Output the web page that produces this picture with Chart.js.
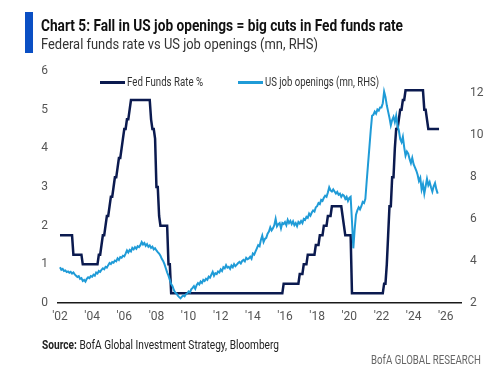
<!DOCTYPE html>
<html><head><meta charset="utf-8">
<script src="https://cdn.jsdelivr.net/npm/chart.js@4.4.1/dist/chart.umd.min.js"></script>
<style>
html,body{margin:0;padding:0;background:#fff;width:500px;height:372px;overflow:hidden;}
body{position:relative;font-family:"Roboto",sans-serif;}
#c{position:absolute;left:0;top:0;}
.t{position:absolute;white-space:nowrap;transform-origin:0 0;display:inline-block;}
#bar{position:absolute;left:25px;top:12px;width:8px;height:41px;background:#0a4fc4;}
#title{left:41px;top:16px;font-size:16px;font-weight:bold;color:#111;}
#sub{left:41px;top:35px;font-size:15px;color:#333;}
#src{left:42px;top:337px;font-size:12.5px;color:#222;}
#brand{left:371px;top:352px;font-size:12.5px;color:#666;}
.lg{position:absolute;height:3px;}
.lt{font-size:12px;color:#333;}
</style></head><body>
<canvas id="c" width="500" height="372"></canvas>
<div id="bar"></div>
<div class="t" id="title" data-w="362">Chart 5: Fall in US job openings = big cuts in Fed funds rate</div>
<div class="t" id="sub" data-w="277">Federal funds rate vs US job openings (mn, RHS)</div>
<div class="lg" style="left:100px;top:81px;width:25px;background:#0b1a4f;"></div>
<div class="t lt" style="left:127px;top:75px;" data-w="76">Fed Funds Rate %</div>
<div class="lg" style="left:238px;top:81px;width:25px;background:#1f9bd7;"></div>
<div class="t lt" style="left:265px;top:75px;" data-w="114">US job openings (mn, RHS)</div>
<div class="t" id="src" data-w="237"><b>Source:</b> BofA Global Investment Strategy, Bloomberg</div>
<div class="t" id="brand" data-w="110">BofA GLOBAL RESEARCH</div>
<script>
const startYear = 2002;
const xTicks = [2002,2004,2006,2008,2010,2012,2014,2016,2018,2020,2022,2024,2026];
const leftTicks = [0,1,2,3,4,5,6];
const rightTicks = [2,4,6,8,10,12];

// Fed funds target (upper bound), monthly from Jan 2002
const fedFunds = [
1.75,1.75,1.75,1.75,1.75,1.75,1.75,1.75,1.75,1.75,1.25,1.25,
1.25,1.25,1.25,1.25,1.25,1.0,1.0,1.0,1.0,1.0,1.0,1.0,
1.0,1.0,1.0,1.0,1.0,1.25,1.25,1.5,1.75,1.75,2.0,2.25,
2.25,2.5,2.75,2.75,3.0,3.25,3.25,3.5,3.75,3.75,4.0,4.25,
4.5,4.5,4.75,4.75,5.0,5.25,5.25,5.25,5.25,5.25,5.25,5.25,
5.25,5.25,5.25,5.25,5.25,5.25,5.25,5.25,4.75,4.5,4.5,4.25,
3.0,3.0,2.25,2.0,2.0,2.0,2.0,2.0,2.0,1.0,1.0,0.25,
0.25,0.25,0.25,0.25,0.25,0.25,0.25,0.25,0.25,0.25,0.25,0.25,
0.25,0.25,0.25,0.25,0.25,0.25,0.25,0.25,0.25,0.25,0.25,0.25,
0.25,0.25,0.25,0.25,0.25,0.25,0.25,0.25,0.25,0.25,0.25,0.25,
0.25,0.25,0.25,0.25,0.25,0.25,0.25,0.25,0.25,0.25,0.25,0.25,
0.25,0.25,0.25,0.25,0.25,0.25,0.25,0.25,0.25,0.25,0.25,0.25,
0.25,0.25,0.25,0.25,0.25,0.25,0.25,0.25,0.25,0.25,0.25,0.25,
0.25,0.25,0.25,0.25,0.25,0.25,0.25,0.25,0.25,0.25,0.25,0.5,
0.5,0.5,0.5,0.5,0.5,0.5,0.5,0.5,0.5,0.5,0.5,0.75,
0.75,0.75,1.0,1.0,1.0,1.25,1.25,1.25,1.25,1.25,1.25,1.5,
1.5,1.5,1.75,1.75,1.75,2.0,2.0,2.0,2.25,2.25,2.25,2.5,
2.5,2.5,2.5,2.5,2.5,2.5,2.5,2.25,2.0,1.75,1.75,1.75,
1.75,1.75,0.25,0.25,0.25,0.25,0.25,0.25,0.25,0.25,0.25,0.25,
0.25,0.25,0.25,0.25,0.25,0.25,0.25,0.25,0.25,0.25,0.25,0.25,
0.25,0.25,0.5,0.5,1.0,1.75,2.5,2.5,3.25,3.25,4.0,4.5,
4.5,4.75,5.0,5.0,5.25,5.25,5.5,5.5,5.5,5.5,5.5,5.5,
5.5,5.5,5.5,5.5,5.5,5.5,5.5,5.5,5.0,5.0,4.75,4.5,
4.5,4.5,4.5,4.5,4.5,4.5,4.5,4.5
];

// US job openings (mn), monthly from Jan 2002
const jobOpenings = [
3.70,3.58,3.62,3.52,3.55,3.47,3.50,3.44,3.48,3.40,3.45,3.36,
3.30,3.24,3.28,3.15,3.18,3.05,3.10,3.02,3.15,3.22,3.18,3.28,
3.25,3.35,3.30,3.45,3.40,3.52,3.48,3.58,3.65,3.60,3.72,3.68,
3.80,3.90,3.85,3.95,3.92,4.02,3.98,4.12,4.05,4.18,4.15,4.25,
4.22,4.35,4.50,4.40,4.52,4.45,4.62,4.55,4.65,4.58,4.70,4.66,
4.75,4.90,4.78,4.85,4.72,4.80,4.67,4.74,4.62,4.68,4.55,4.60,
4.50,4.42,4.35,4.25,4.10,4.00,3.85,3.65,3.46,3.30,3.10,2.90,
2.80,2.62,2.50,2.45,2.35,2.28,2.22,2.30,2.36,2.32,2.42,2.45,
2.55,2.50,2.65,2.72,2.80,2.68,2.85,2.95,2.88,3.02,2.95,3.10,
3.05,3.15,3.10,3.25,3.20,3.35,3.48,3.30,3.42,3.38,3.50,3.45,
3.60,3.52,3.70,3.65,3.80,3.68,3.72,3.62,3.78,3.70,3.85,3.75,
3.82,3.90,3.95,3.88,4.00,4.05,3.98,4.15,4.08,4.12,4.20,4.10,
4.35,4.30,4.45,4.60,4.75,4.70,5.00,5.20,4.90,5.05,5.10,5.30,
5.40,5.60,5.45,5.55,5.70,6.00,5.65,5.75,5.80,5.55,5.80,5.75,
5.85,5.70,5.95,5.80,5.90,5.75,5.88,5.70,5.80,5.65,5.85,5.78,
5.90,5.80,6.00,5.95,6.10,6.05,6.25,6.15,6.30,6.40,6.35,6.55,
6.60,6.75,6.70,6.90,6.85,7.00,7.10,7.05,7.25,7.50,7.35,7.30,
7.40,7.30,7.20,7.28,7.15,7.20,7.05,7.15,7.10,6.95,7.05,6.85,
7.00,7.05,5.90,4.60,5.50,6.20,6.40,6.55,6.45,6.60,6.80,6.75,
6.95,7.80,8.60,9.40,10.20,10.90,10.95,11.10,11.00,11.20,11.15,11.30,
11.30,11.50,12.05,11.80,11.40,11.10,10.80,10.45,10.70,10.85,10.60,10.90,
10.45,10.20,9.80,9.65,9.90,9.40,9.00,9.20,9.10,8.85,8.65,8.90,
8.60,8.45,8.30,8.10,7.80,7.95,7.40,7.65,7.20,7.55,7.90,7.60,
7.75,7.50,7.30,7.55,7.70,7.40,7.20
];

// fit text widths to the reference layout
document.querySelectorAll('[data-w]').forEach(el=>{
  const w = el.getBoundingClientRect().width;
  const target = parseFloat(el.dataset.w);
  if (w > 0) el.style.transform = 'scaleX(' + (target / w) + ')';
});

const toPts = arr => arr.map((v,i)=>({x:startYear + i/12, y:v}));
const tickFont = {family:'"Roboto",sans-serif', size:12};

new Chart(document.getElementById('c'), {
  type:'line',
  data:{datasets:[
    {label:'US job openings (mn, RHS)', data:toPts(jobOpenings), yAxisID:'yR',
     borderColor:'#1f9bd7', borderWidth:2, pointRadius:0, tension:0},
    {label:'Fed Funds Rate %', data:toPts(fedFunds), yAxisID:'yL',
     borderColor:'#0b1a4f', borderWidth:2.5, pointRadius:0, tension:0}
  ]},
  options:{
    responsive:false, animation:false, devicePixelRatio:1,
    layout:{padding:{left:0,right:0,top:71,bottom:39}},
    plugins:{legend:{display:false}, tooltip:{enabled:false}},
    scales:{
      x:{type:'linear', min:2001.876, max:2026.95,
         afterBuildTicks:s=>{s.ticks = xTicks.map(v=>({value:v}));},
         afterFit:s=>{s.height=30;},
         ticks:{callback:v=>"'"+String(v).slice(2), color:'#555', font:tickFont, padding:7, maxRotation:0, autoSkip:false},
         grid:{display:false, drawTicks:false},
         border:{display:true, color:'#1a1a1a', width:1.5}},
      yL:{type:'linear', position:'left', min:0, max:6,
         afterBuildTicks:s=>{s.ticks = leftTicks.map(v=>({value:v}));},
         afterFit:s=>{s.width=58;},
         ticks:{color:'#555', font:tickFont, padding:10},
         grid:{display:false, drawTicks:false}, border:{display:false}},
      yR:{type:'linear', position:'right', min:2, max:13.03,
         afterBuildTicks:s=>{s.ticks = rightTicks.map(v=>({value:v}));},
         afterFit:s=>{s.width=39;},
         ticks:{color:'#555', font:tickFont, padding:9},
         grid:{display:false, drawTicks:false}, border:{display:false}}
    }
  }
});
</script>
</body></html>
